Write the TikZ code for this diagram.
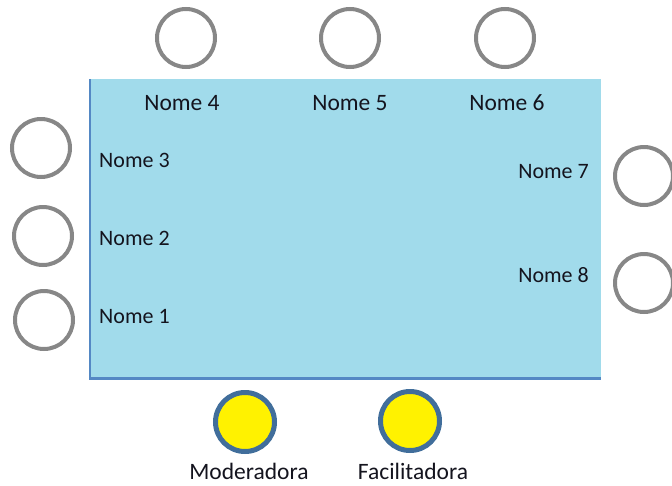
\documentclass[tikz,border=0pt]{standalone}
\usepackage{fontspec}
\setmainfont{Carlito}
\definecolor{tablefill}{RGB}{161,219,235}
\definecolor{tableedge}{RGB}{84,136,196}
\definecolor{seatgray}{RGB}{135,135,135}
\definecolor{keyedge}{RGB}{65,110,155}
\definecolor{txt}{RGB}{20,20,30}
\begin{document}
\begin{tikzpicture}[x=1pt,y=-1pt,
  seat/.style={circle,draw=seatgray,line width=4pt,minimum size=58pt,inner sep=0pt},
  keyseat/.style={circle,draw=keyedge,fill=yellow,line width=5pt,minimum size=59pt,inner sep=0pt},
  lbl/.style={inner sep=0pt,text=txt,font=\fontsize{22}{26}\selectfont},
  toplbl/.style={inner sep=0pt,text=txt,font=\fontsize{23.5}{28}\selectfont},
  keylbl/.style={inner sep=0pt,text=txt,font=\fontsize{23.5}{28}\selectfont}]
\useasboundingbox (0,0) rectangle (672,485);
% table
\node[fill=tablefill,inner sep=0pt,minimum width=511pt,minimum height=299pt,anchor=north west] (table) at (90,79) {};
\draw[tableedge,line width=2pt] (table.north west) -- (table.south west);
\draw[tableedge,line width=3pt] ([xshift=-1pt]table.south west) -- (table.south east);
% seats
\node[seat] (s4) at (186,38) {};
\node[seat] (s5) at (350,38) {};
\node[seat] (s6) at (505,38) {};
\node[seat] (s3) at (41,148) {};
\node[seat] (s2) at (43,236) {};
\node[seat] (s1) at (44,320) {};
\node[seat] (s7) at (644,176) {};
\node[seat] (s8) at (644,283) {};
% names
\node[toplbl] (n4) at (182,103) {Nome 4};
\node[toplbl] (n5) at (350,103) {Nome 5};
\node[toplbl] (n6) at (507,103) {Nome 6};
\node[lbl,anchor=west] (n3) at (99,160) {Nome 3};
\node[lbl,anchor=west] (n2) at (99,238) {Nome 2};
\node[lbl,anchor=west] (n1) at (99,316) {Nome 1};
\node[lbl,anchor=east] (n7) at (589,172) {Nome 7};
\node[lbl,anchor=east] (n8) at (589,275) {Nome 8};
% moderator & facilitator
\node[keyseat] (mod) at (245,422) {};
\node[keyseat] (fac) at (410,421) {};
\node[keylbl] (modl) at (249,471) {Moderadora};
\node[keylbl] (facl) at (413,471) {Facilitadora};
\end{tikzpicture}
\end{document}
